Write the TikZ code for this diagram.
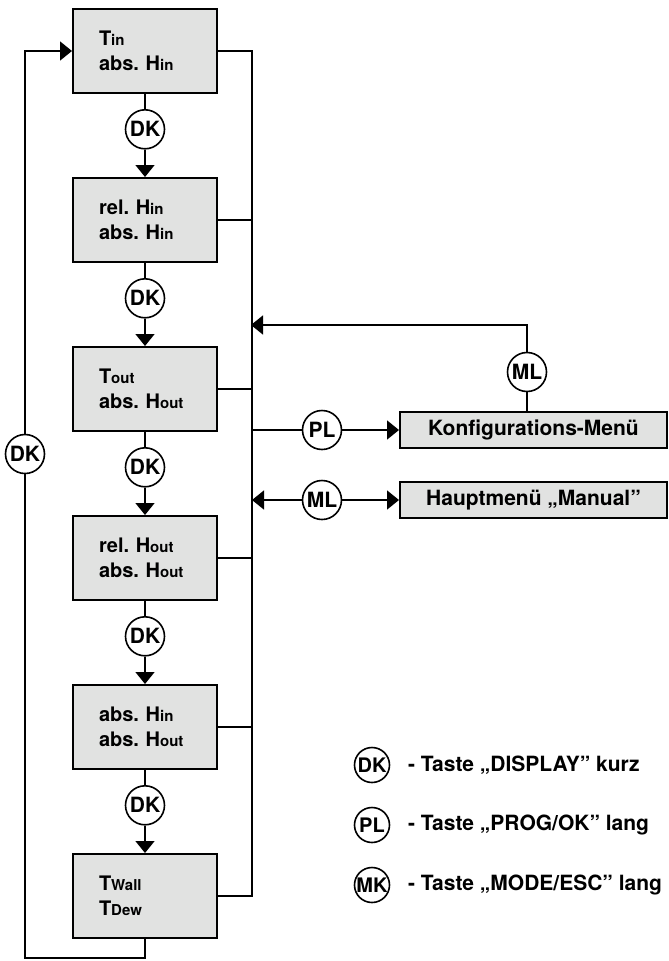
\documentclass[tikz,border=0pt]{standalone}
\usepackage{fontspec}
\setmainfont{TeX Gyre Heros}
\usetikzlibrary{positioning,arrows.meta,calc}
\definecolor{boxgray}{HTML}{E1E2E1}
\newcommand{\lo}[1]{{\fontsize{15}{15}\selectfont #1}}

\begin{document}
\begin{tikzpicture}[x=1pt, y=1pt, node distance=83pt, line width=1.6pt,
  disp/.style={draw, line width=2pt, fill=boxgray, minimum width=144pt, minimum height=84pt, text width=92pt, align=left, font=\fontsize{20}{25}\selectfont\bfseries},
  menu/.style={draw, line width=2pt, fill=boxgray, minimum width=267pt, minimum height=36pt, font=\fontsize{21}{25}\selectfont\bfseries},
  key/.style={circle, draw, line width=1.6pt, fill=white, minimum size=39pt, inner sep=0pt, font=\fontsize{21}{21}\selectfont\bfseries},
  legkey/.style={key, minimum size=35pt, font=\fontsize{20}{20}\selectfont\bfseries},
  note/.style={anchor=west, inner sep=0pt, font=\fontsize{21}{25}\selectfont\bfseries},
  arr/.style={-{Triangle[width=19pt,length=12pt]}}]
  \useasboundingbox (0,0) rectangle (669,-961);

  % display pages
  \node[disp] (b1) at (145,-51) {T\lo{in}\\abs.~H\lo{in}};
  \node[disp, below=of b1] (b2) {rel.~H\lo{in}\\abs.~H\lo{in}};
  \node[disp, below=of b2] (b3) {T\lo{out}\\abs.~H\lo{out}};
  \node[disp, below=of b3] (b4) {rel.~H\lo{out}\\abs.~H\lo{out}};
  \node[disp, below=of b4] (b5) {abs.~H\lo{in}\\abs.~H\lo{out}};
  \node[disp, below=of b5] (b6) {T\lo{Wall}\\T\lo{Dew}};

  % DK steps between pages
  \foreach \i/\j in {1/2,2/3,3/4,4/5,5/6} {
    \node[key, below=15pt of b\i] (k\i) {DK};
    \draw (b\i) -- (k\i);
    \draw[arr] (k\i) -- (b\j);
  }

  % back to the first page
  \node[key] (k0) at (25,-454) {DK};
  \coordinate (lb) at (25,-958);
  \draw (b6.south) |- (lb) -- (k0);
  \draw[arr] (k0) |- (b1.west);

  % common line on the right
  \coordinate (bt) at ($(b1.east)+(34,0)$);
  \draw (b1.east) -| (bt |- b6.east) -- (b6.east);
  \foreach \i in {2,...,5}
    \draw (b\i.east) -- (b\i.east -| bt);

  % menus
  \node[menu] (konf) at (533.5,-430) {Konfigurations-Menü};
  \node[menu] (haupt) at (533.5,-500) {Hauptmenü „Manual”};
  \node[key] (ml1) at (527,-372) {ML};
  \coordinate (r1) at (251,-325);
  \draw (konf.north -| ml1) -- (ml1);
  \draw[arr] (ml1) |- (r1);
  \node[key] (pl) at (322,-430) {PL};
  \draw (bt |- pl) -- (pl);
  \draw[arr] (pl) -- (konf);
  \node[key] (ml2) at (322,-500) {ML};
  \draw[arr] (ml2) -- (bt |- ml2);
  \draw[arr] (ml2) -- (haupt);

  % legend
  \node[legkey] (lk1) at (372,-765) {DK};
  \node[note, right=17pt of lk1] (lt1) {- Taste „DISPLAY” kurz};
  \node[legkey] (lk2) at (372,-825) {PL};
  \node[note, right=17pt of lk2] (lt2) {- Taste „PROG/OK” lang};
  \node[legkey] (lk3) at (372,-885) {MK};
  \node[note, right=17pt of lk3] (lt3) {- Taste „MODE/ESC” lang};
\end{tikzpicture}
\end{document}
